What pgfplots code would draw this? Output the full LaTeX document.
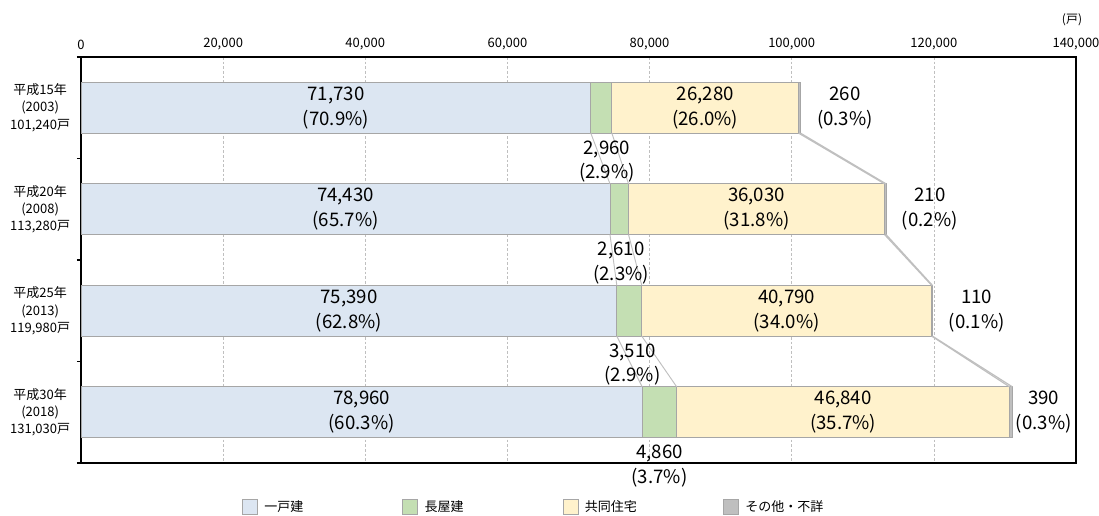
\documentclass[border=0pt]{standalone}
\usepackage{fontspec}
\setmainfont{Noto Sans CJK JP}
\usepackage{pgfplots}
\pgfplotsset{compat=1.18}
\definecolor{cblue}{HTML}{DCE6F2}
\definecolor{cgreen}{HTML}{C4DFB3}
\definecolor{cyellow}{HTML}{FFF2CC}
\definecolor{cgray}{HTML}{BFBFBF}
\definecolor{cedge}{HTML}{A6A6A6}
\definecolor{cline}{HTML}{BFBFBF}
\tikzset{lbl/.style={align=center, font=\fontsize{14pt}{18.5pt}\selectfont, inner sep=0pt}}
\begin{document}
\begin{tikzpicture}
\pgfplotsset{common/.style={width=746.25pt, height=304.5pt, scale only axis,
  at={(0,0)}, anchor=south west, xmin=0, xmax=140000, ymin=-0.5, ymax=3.5,
  y dir=reverse, enlargelimits=false}}
\begin{axis}[common,
  xbar stacked, bar width=0.5,
  xtick={0,20000,40000,60000,80000,100000,120000,140000},
  xticklabel pos=upper, scaled x ticks=false,
  xticklabel style={font=\fontsize{9.75pt}{11pt}\selectfont, inner sep=0pt,
    /pgf/number format/fixed, /pgf/number format/precision=0,
    /pgf/number format/1000 sep={,}, /pgf/number format/assume math mode=true},
  xticklabel shift=5pt,
  ytick={0,1,2,3}, ytick pos=left,
  yticklabels={{平成15年\\(2003)\\101,240戸},{平成20年\\(2008)\\113,280戸},{平成25年\\(2013)\\119,980戸},{平成30年\\(2018)\\131,030戸}},
  yticklabel style={align=center, font=\fontsize{9.75pt}{13pt}\selectfont, inner sep=0pt},
  yticklabel shift=8pt,
  major tick length=0pt,
  extra y ticks={-0.5,0.5,1.5,2.5,3.5}, extra y tick labels={},
  extra y tick style={major tick length=3pt, tick align=outside, ytick pos=left, tick style={black, line width=0.8pt}},
  xmajorgrids, major grid style={cline, dash pattern=on 2pt off 1.5pt, line width=0.5pt},
  axis line style={black, line width=1.1pt},
  legend columns=4,
  legend style={at={(0.1618,-0.1084)}, anchor=west, draw=none, fill=none,
    inner sep=0pt, outer sep=0pt,
    nodes={inner sep=0pt, text width=103.5pt, align=left, font=\fontsize{9.75pt}{11pt}\selectfont}},
  legend image code/.code={\path[draw=none, fill=none] (0pt,-5.6pt) rectangle (16.5pt,5.6pt);
    \draw[#1, draw=cedge, line width=0.5pt] (0pt,-5.6pt) rectangle (11.25pt,5.6pt);},
]
\addplot[fill=cblue, draw=cedge, line width=0.6pt] coordinates {(71730,0) (74430,1) (75390,2) (78960,3)};
\addlegendentry{一戸建}
\addplot[fill=cgreen, draw=cedge, line width=0.6pt] coordinates {(2960,0) (2610,1) (3510,2) (4860,3)};
\addlegendentry{長屋建}
\addplot[fill=cyellow, draw=cedge, line width=0.6pt] coordinates {(26280,0) (36030,1) (40790,2) (46840,3)};
\addlegendentry{共同住宅}
\addplot[fill=cgray, draw=cedge, line width=0.6pt] coordinates {(260,0) (210,1) (110,2) (390,3)};
\addlegendentry{その他・不詳}
\end{axis}
\begin{axis}[common, hide axis, clip=false]
% connector lines
\addplot[cline, line width=0.7pt] coordinates {(71730,0.25) (74430,0.75)};
\addplot[cline, line width=0.7pt] coordinates {(74690,0.25) (77040,0.75)};
\addplot[cline, line width=0.9pt] coordinates {(100970,0.25) (113070,0.75)};
\addplot[cline, line width=0.9pt] coordinates {(101230,0.25) (113280,0.75)};
\addplot[cline, line width=0.7pt] coordinates {(74430,1.25) (75390,1.75)};
\addplot[cline, line width=0.7pt] coordinates {(77040,1.25) (78900,1.75)};
\addplot[cline, line width=0.9pt] coordinates {(113070,1.25) (119690,1.75)};
\addplot[cline, line width=0.9pt] coordinates {(113280,1.25) (119800,1.75)};
\addplot[cline, line width=0.7pt] coordinates {(75390,2.25) (78960,2.75)};
\addplot[cline, line width=0.7pt] coordinates {(78900,2.25) (83820,2.75)};
\addplot[cline, line width=0.9pt] coordinates {(119690,2.25) (130660,2.75)};
\addplot[cline, line width=0.9pt] coordinates {(119800,2.25) (131050,2.75)};
% labels
\node[lbl] at (axis cs:35865,0) {71,730\\(70.9\%)};
\node[lbl] at (axis cs:37215,1) {74,430\\(65.7\%)};
\node[lbl] at (axis cs:37695,2) {75,390\\(62.8\%)};
\node[lbl] at (axis cs:39480,3) {78,960\\(60.3\%)};
\node[lbl] at (axis cs:87830,0) {26,280\\(26.0\%)};
\node[lbl] at (axis cs:95055,1) {36,030\\(31.8\%)};
\node[lbl] at (axis cs:99295,2) {40,790\\(34.0\%)};
\node[lbl] at (axis cs:107240,3) {46,840\\(35.7\%)};
\node[lbl] at (axis cs:74000,0.53) {2,960\\(2.9\%)};
\node[lbl] at (axis cs:76000,1.53) {2,610\\(2.3\%)};
\node[lbl] at (axis cs:77600,2.53) {3,510\\(2.9\%)};
\node[lbl] at (axis cs:81400,3.53) {4,860\\(3.7\%)};
\node[lbl] at (axis cs:107490,0) {260\\(0.3\%)};
\node[lbl] at (axis cs:119430,1) {210\\(0.2\%)};
\node[lbl] at (axis cs:126040,2) {110\\(0.1\%)};
\node[lbl] at (axis cs:135450,3) {390\\(0.3\%)};
\node[font=\fontsize{9pt}{10pt}\selectfont, inner sep=0pt, yshift=27.75pt, xshift=-3pt] at (axis description cs:1,1) {(戸)};
\end{axis}
\pgfresetboundingbox
\path (-60.75pt,-39.75pt) rectangle (763.5pt,347.25pt);
\end{tikzpicture}
\end{document}
